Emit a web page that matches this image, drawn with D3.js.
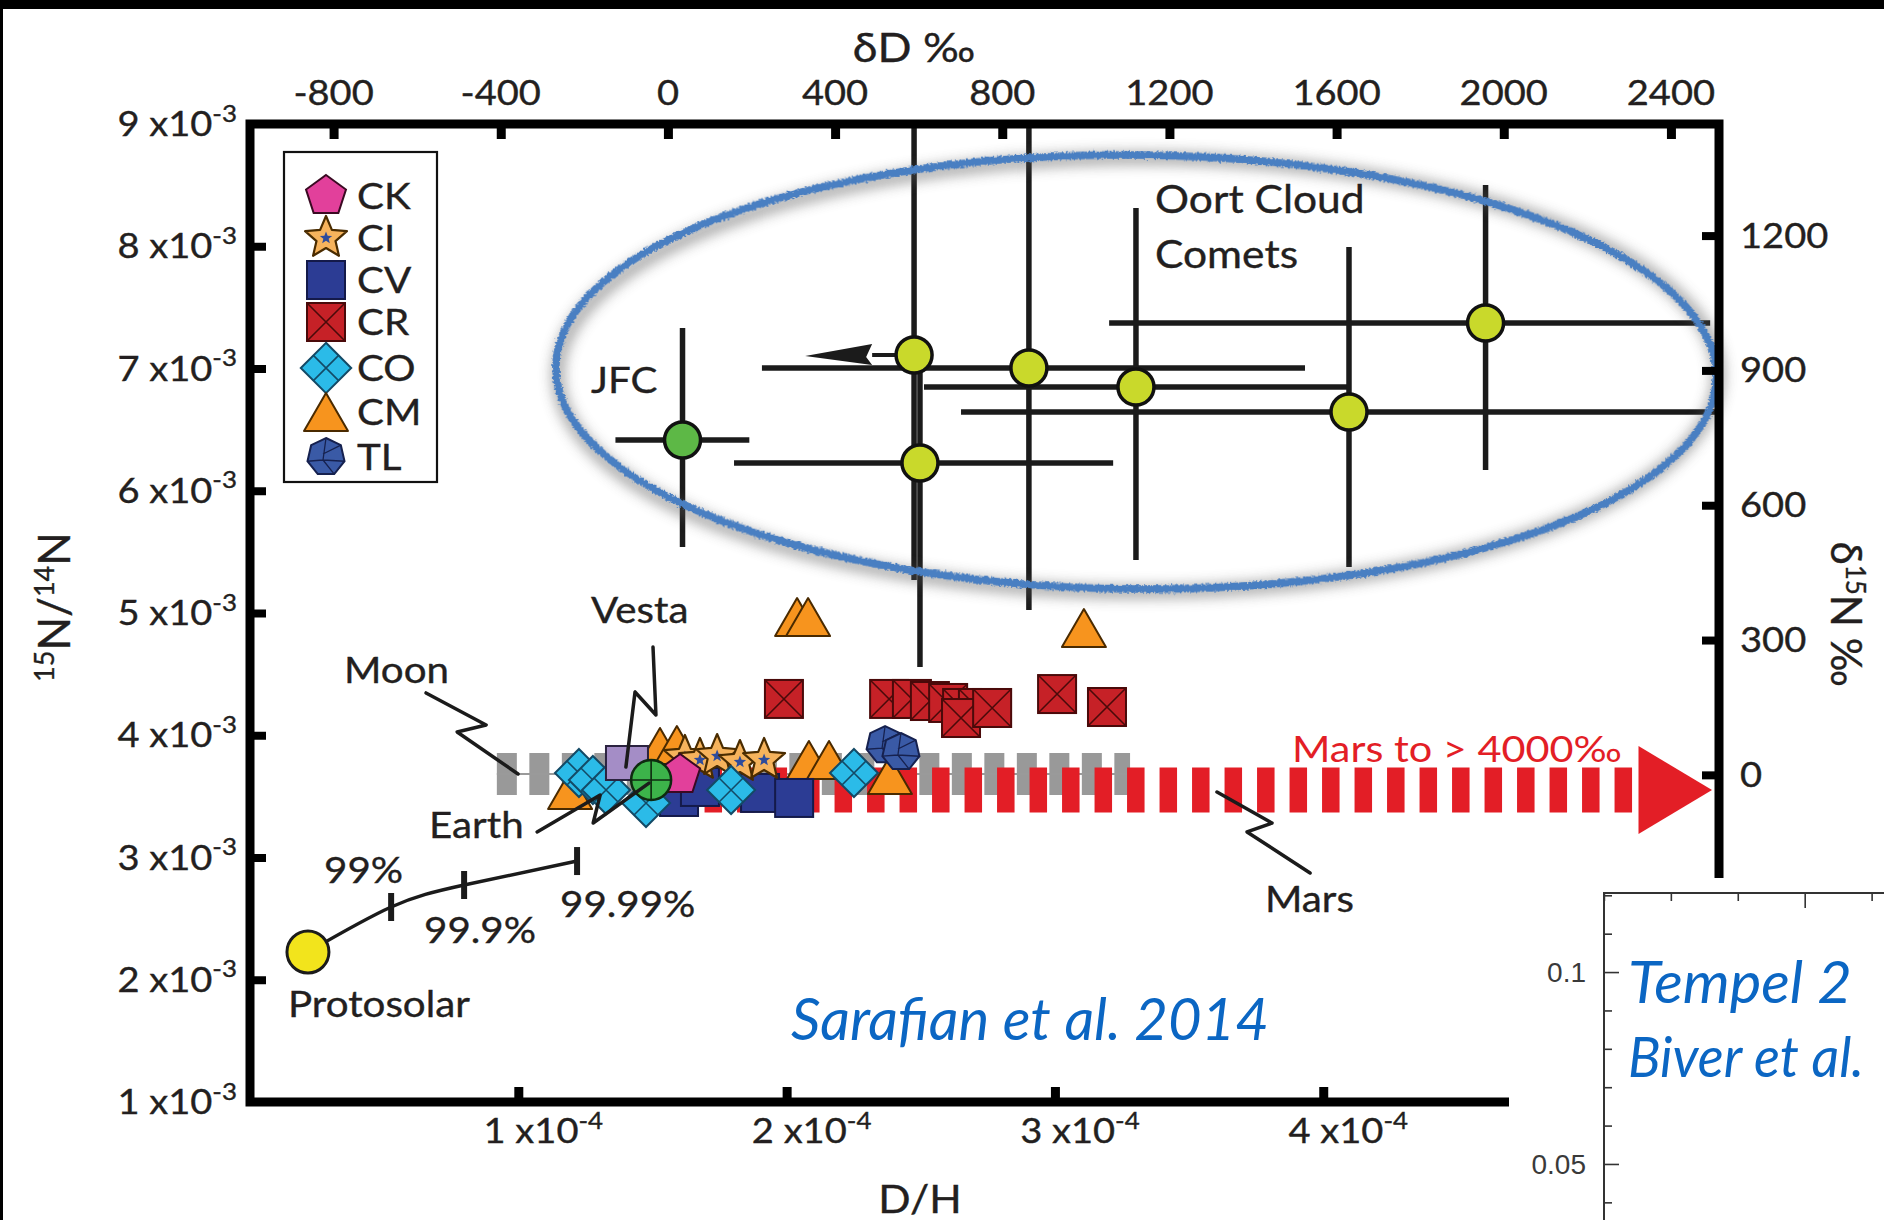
<!DOCTYPE html>
<html>
<head>
<meta charset="utf-8">
<script src="https://cdn.jsdelivr.net/npm/d3@7"></script>
<style>
  html, body { margin: 0; padding: 0; background: #000; }
  svg { display: block; }
  text { font-family: Lato, "Open Sans", sans-serif; fill: #231f20; }
  text.ink { stroke: #231f20; stroke-width: 0.35px; }
</style>
</head>
<body>
<svg id="chart" width="1884" height="1220"></svg>
<script>
// ---------- axis ticks ----------
const ratioTicks = [2e-3, 3e-3, 4e-3, 5e-3, 6e-3, 7e-3, 8e-3];
const ratioLabels = [1e-3, 2e-3, 3e-3, 4e-3, 5e-3, 6e-3, 7e-3, 8e-3, 9e-3];
const dhTicks = [1e-4, 2e-4, 3e-4, 4e-4];
const deltaDTicks = [-800, -400, 0, 400, 800, 1200, 1600, 2000, 2400];
const delta15NTicks = [0, 300, 600, 900, 1200];

// reference standards used for the delta axes
const VSMOW = 1.5576e-4;   // D/H
const AIR = 3.676e-3;      // 15N/14N

// ---------- meteorite groups: [D/H, 15N/14N] ----------
const groupCM = [[2.039e-4, 4.967e-3], [2.080e-4, 4.967e-3], [3.108e-4, 4.877e-3],
                 [1.193e-4, 3.552e-3], [1.528e-4, 3.904e-3], [1.591e-4, 3.920e-3],
                 [2.083e-4, 3.798e-3], [2.158e-4, 3.798e-3], [2.385e-4, 3.675e-3]];
const groupCR = [[1.990e-4, 4.297e-3], [2.382e-4, 4.297e-3], [2.467e-4, 4.297e-3],
                 [2.534e-4, 4.280e-3], [2.602e-4, 4.264e-3], [2.654e-4, 4.223e-3],
                 [2.713e-4, 4.223e-3], [2.650e-4, 4.141e-3], [2.766e-4, 4.223e-3],
                 [3.008e-4, 4.337e-3], [3.194e-4, 4.231e-3]];
const groupCV = [[1.599e-4, 3.495e-3], [1.677e-4, 3.577e-3], [1.901e-4, 3.528e-3],
                 [2.028e-4, 3.487e-3]];
const groupCI = [[1.621e-4, 3.822e-3], [1.677e-4, 3.798e-3], [1.741e-4, 3.830e-3],
                 [1.826e-4, 3.781e-3], [1.916e-4, 3.798e-3]];
const groupCO = [[1.226e-4, 3.691e-3], [1.278e-4, 3.634e-3], [1.327e-4, 3.552e-3],
                 [1.476e-4, 3.446e-3], [1.793e-4, 3.552e-3], [2.251e-4, 3.691e-3]];
const groupTL = [[2.367e-4, 3.920e-3], [2.426e-4, 3.863e-3]];
const groupCK = [[1.603e-4, 3.675e-3]];

// ---------- planetary bodies ----------
const earth = [1.495e-4, 3.634e-3];
const vesta = [1.405e-4, 3.773e-3];
const protosolar = [0.216e-4, 2.227e-3];
// mixing curve from protosolar toward Earth (99 %, 99.9 %, 99.99 %)
const mixingCurve = [[0.216e-4, 2.227e-3], [0.526e-4, 2.595e-3], [0.798e-4, 2.775e-3], [1.219e-4, 2.971e-3]];
const mixingLabels = ["99%", "99.9%", "99.99%"];

// Moon and Mars ranges (D/H span at a given 15N/14N)
const moonRange = { dh: [0.92e-4, 3.28e-4], ratio: 3.683e-3 };
const marsRange = { dh: [1.573e-4, 5.16e-4], tip: 5.449e-4, ratio: 3.552e-3 };

// ---------- comets: value with low/high limits ----------
const jfcComets = [
  { dh: 1.612e-4, dhLo: 1.362e-4, dhHi: 1.861e-4, r: 6.415e-3, rLo: 5.540e-3, rHi: 7.331e-3 }
];
const oortComets = [
  { dh: 2.475e-4, dhLo: 2.069e-4, dhHi: null,     r: 7.110e-3, rLo: 5.270e-3, rHi: 9.0e-3, upperLimit: true },
  { dh: 2.903e-4, dhLo: 1.908e-4, dhHi: 3.932e-4, r: 7.004e-3, rLo: 5.025e-3, rHi: 9.0e-3 },
  { dh: 3.302e-4, dhLo: 2.512e-4, dhHi: 4.100e-4, r: 6.849e-3, rLo: 5.434e-3, rHi: 8.313e-3 },
  { dh: 2.497e-4, dhLo: 1.804e-4, dhHi: 3.217e-4, r: 6.227e-3, rLo: 4.558e-3, rHi: 7.029e-3 },
  { dh: 4.096e-4, dhLo: 2.650e-4, dhHi: 5.464e-4, r: 6.644e-3, rLo: 5.376e-3, rHi: 7.994e-3 },
  { dh: 4.605e-4, dhLo: 3.202e-4, dhHi: 5.442e-4, r: 7.372e-3, rLo: 6.170e-3, rHi: 8.501e-3 }
];
// region outlined around the comet measurements
const cometRegion = { dh: [1.14e-4, 5.465e-4], ratio: [5.196e-3, 8.747e-3] };

// squiggly leader lines for the labels
const leaderMoon  = [[0.656e-4, 4.346e-3], [0.880e-4, 4.084e-3], [0.772e-4, 4.027e-3], [0.999e-4, 3.683e-3]];
const leaderVesta = [[1.502e-4, 4.722e-3], [1.513e-4, 4.166e-3], [1.435e-4, 4.354e-3], [1.401e-4, 3.740e-3]];
const leaderEarth = [[1.070e-4, 3.209e-3], [1.305e-4, 3.511e-3], [1.279e-4, 3.282e-3], [1.487e-4, 3.609e-3]];
const leaderMars  = [[3.604e-4, 3.536e-3], [3.809e-4, 3.282e-3], [3.716e-4, 3.209e-3], [3.951e-4, 2.873e-3]];

const legendKeys = ["CK", "CI", "CV", "CR", "CO", "CM", "TL"];

// inset (Tempel 2 panel) ticks
const insetYMajor = [0.05, 0.1];
const insetYMinor = [0.04, 0.06, 0.07, 0.08, 0.09, 0.11, 0.12];
const insetXMajor = [0];
const insetXMinor = [-1.5, -1, -0.5, 0.5];

// ---------- setup ----------
const W = 1884, H = 1220;
const SX = 1.12;   // horizontal stretch applied to figure lettering
const INK = "#1b1b1b";
const svg = d3.select("#chart");

const defs = svg.append("defs");
const rough = defs.append("filter").attr("id", "rough").attr("x", "-5%").attr("y", "-5%").attr("width", "110%").attr("height", "110%");
rough.append("feTurbulence").attr("type", "fractalNoise").attr("baseFrequency", 0.45).attr("numOctaves", 2).attr("seed", 3).attr("result", "noise");
rough.append("feDisplacementMap").attr("in", "SourceGraphic").attr("in2", "noise").attr("scale", 5).attr("xChannelSelector", "R").attr("yChannelSelector", "G");
const soft = defs.append("filter").attr("id", "soft").attr("x", "-10%").attr("y", "-20%").attr("width", "120%").attr("height", "140%");
soft.append("feGaussianBlur").attr("stdDeviation", 7);

// page background
svg.append("rect").attr("width", W).attr("height", H).attr("fill", "#000");
svg.append("rect").attr("x", 3).attr("y", 9).attr("width", W - 3).attr("height", H - 9).attr("fill", "#fff");

const x = d3.scaleLinear().domain([0, 5.475e-4]).range([250, 1719]);
const y = d3.scaleLinear().domain([1e-3, 9e-3]).range([1102, 124]);
const xDelta = d3.scaleLinear().domain(x.domain().map(v => (v / VSMOW - 1) * 1000)).range(x.range());
const yDelta = d3.scaleLinear().domain(y.domain().map(v => (v / AIR - 1) * 1000)).range(y.range());

const px = d => x(d[0]), py = d => y(d[1]);

// text helper with a slight horizontal stretch
function label(parent, tx, ty, opts = {}) {
  const size = opts.size || 34;
  const t = parent.append("text")
    .attr("transform", `translate(${tx},${ty}) scale(${opts.sx || SX},1)`)
    .attr("text-anchor", opts.anchor || "start")
    .attr("font-size", size);
  if (opts.fill) t.style("fill", opts.fill);
  else t.attr("class", "ink");
  if (opts.italic) t.attr("font-style", "italic");
  if (opts.text != null) t.text(opts.text);
  return t;
}
function sci(t, mant, exp, size) {
  t.append("tspan").text(mant + " x10");
  t.append("tspan").attr("font-size", size * 0.68).attr("dy", -size * 0.42).text(exp);
}

// ---------- marker shapes ----------
const lineClosed = d3.line().curve(d3.curveLinearClosed);
function regular(n, r, rot = -Math.PI / 2) {
  return d3.range(n).map(i => [r * Math.cos(rot + i * 2 * Math.PI / n), r * Math.sin(rot + i * 2 * Math.PI / n)]);
}
function starPts(ro, ri) {
  return d3.range(10).map(i => {
    const a = -Math.PI / 2 + i * Math.PI / 5, r = i % 2 ? ri : ro;
    return [r * Math.cos(a), r * Math.sin(a)];
  });
}

const shapes = {
  CK(g, s) {
    g.append("path").attr("d", lineClosed(regular(5, 21 * s))).attr("fill", "#e2409b").attr("stroke", "#3a0a22").attr("stroke-width", 2);
  },
  CI(g, s) {
    g.append("path").attr("d", lineClosed(starPts(22 * s, 10 * s))).attr("fill", "#f6b35c").attr("stroke", "#4a2c00").attr("stroke-width", 2.2).attr("stroke-linejoin", "round");
    g.append("path").attr("d", lineClosed(starPts(6.5 * s, 2.8 * s))).attr("fill", "#2d4b9c");
  },
  CV(g, s) {
    const h = 19 * s;
    g.append("rect").attr("x", -h).attr("y", -h).attr("width", 2 * h).attr("height", 2 * h).attr("fill", "#2c3c94").attr("stroke", "#141a4a").attr("stroke-width", 2);
  },
  CR(g, s) {
    const h = 19 * s;
    g.append("rect").attr("x", -h).attr("y", -h).attr("width", 2 * h).attr("height", 2 * h).attr("fill", "#c62127").attr("stroke", "#4a0a0a").attr("stroke-width", 2);
    g.append("path").attr("d", `M${-h},${-h}L${h},${h}M${h},${-h}L${-h},${h}`).attr("stroke", "#4a0a0a").attr("stroke-width", 1.6);
  },
  CO(g, s) {
    const r = 24 * s, m = r / 2;
    g.append("path").attr("d", lineClosed([[0, -r], [r, 0], [0, r], [-r, 0]])).attr("fill", "#2bbbe8").attr("stroke", "#134a66").attr("stroke-width", 2);
    g.append("path").attr("d", `M${m},${-m}L${-m},${m}M${-m},${-m}L${m},${m}`).attr("stroke", "#134a66").attr("stroke-width", 1.6);
  },
  CM(g, s) {
    const w = 22 * s, h = 19 * s;
    g.append("path").attr("d", lineClosed([[0, -h], [w, h], [-w, h]])).attr("fill", "#f7941e").attr("stroke", "#4a2a00").attr("stroke-width", 2).attr("stroke-linejoin", "round");
  },
  TL(g, s) {
    const pts = regular(7, 19 * s);
    g.append("path").attr("d", lineClosed(pts)).attr("fill", "#3a5aa6").attr("stroke", "#16214f").attr("stroke-width", 2);
    const c = [-3 * s, 3 * s];
    g.append("path").attr("d", [0, 2, 3, 5].map(i => `M${c[0]},${c[1]}L${pts[i][0]},${pts[i][1]}`).join("") + `M${pts[1][0]},${pts[1][1]}L${c[0]},${c[1] - 6 * s}`)
      .attr("stroke", "#16214f").attr("stroke-width", 1.3).attr("fill", "none");
  }
};

// ---------- Moon and Mars bands ----------
const bands = svg.append("g");
bands.append("line")
  .attr("x1", x(moonRange.dh[0])).attr("x2", x(moonRange.dh[1]))
  .attr("y1", y(moonRange.ratio)).attr("y2", y(moonRange.ratio))
  .attr("stroke", "#999").attr("stroke-width", 42).attr("stroke-dasharray", "20 12.5");
bands.append("line")
  .attr("x1", x(moonRange.dh[0])).attr("x2", x(moonRange.dh[1]))
  .attr("y1", y(moonRange.ratio)).attr("y2", y(moonRange.ratio))
  .attr("stroke", "#9a9a9a").attr("stroke-width", 2);
bands.append("line")
  .attr("x1", x(marsRange.dh[0])).attr("x2", x(marsRange.dh[1]))
  .attr("y1", y(marsRange.ratio)).attr("y2", y(marsRange.ratio))
  .attr("stroke", "#e31e26").attr("stroke-width", 45).attr("stroke-dasharray", "17.5 15");
const my = y(marsRange.ratio);
bands.append("path")
  .attr("d", lineClosed([[x(marsRange.dh[1]) + 4, my - 44], [x(marsRange.tip), my], [x(marsRange.dh[1]) + 4, my + 44]]))
  .attr("fill", "#e31e26");

// ---------- meteorites ----------
const markers = svg.append("g");
const drawOrder = [["CM", groupCM], ["CR", groupCR], ["CV", groupCV], ["CI", groupCI], ["CO", groupCO], ["TL", groupTL], ["CK", groupCK]];
drawOrder.forEach(([key, data]) => {
  markers.selectAll(null).data(data).join("g")
    .attr("transform", d => `translate(${px(d)},${py(d)})`)
    .each(function () { shapes[key](d3.select(this), 1); });
});

// Vesta and Earth
markers.append("rect")
  .attr("x", px(vesta) - 21).attr("y", py(vesta) - 17).attr("width", 42).attr("height", 34)
  .attr("fill", "#a48dc6").attr("stroke", "#2b2340").attr("stroke-width", 2);
const eg = markers.append("g").attr("transform", `translate(${px(earth)},${py(earth)})`);
eg.append("circle").attr("r", 20).attr("fill", "#3cb34a").attr("stroke", "#0e2a10").attr("stroke-width", 2.5);
eg.append("path").attr("d", "M-20,0H20M0,-20V20").attr("stroke", "#0e2a10").attr("stroke-width", 1.6);

// ---------- mixing curve & protosolar ----------
const curve = svg.append("g");
curve.append("path").datum(mixingCurve)
  .attr("d", d3.line().x(px).y(py).curve(d3.curveNatural))
  .attr("fill", "none").attr("stroke", INK).attr("stroke-width", 3.5);
curve.selectAll(null).data(mixingCurve.slice(1)).join("line")
  .attr("x1", px).attr("x2", px)
  .attr("y1", d => py(d) - 14).attr("y2", d => py(d) + 14)
  .attr("stroke", INK).attr("stroke-width", 6);
curve.append("circle").attr("cx", px(protosolar)).attr("cy", py(protosolar)).attr("r", 21)
  .attr("fill", "#f2e41c").attr("stroke", INK).attr("stroke-width", 3);

// ---------- comets ----------
const cometG = svg.append("g");
function drawComets(data, fill) {
  data.forEach(c => {
    const cx = x(c.dh), cy = y(c.r);
    cometG.append("line").attr("x1", cx).attr("x2", cx).attr("y1", y(c.rLo)).attr("y2", y(c.rHi))
      .attr("stroke", INK).attr("stroke-width", 5.5);
    if (c.upperLimit) {
      const tip = x(c.dhLo), base = tip + 67;
      cometG.append("line").attr("x1", cx).attr("x2", base).attr("y1", cy).attr("y2", cy)
        .attr("stroke", INK).attr("stroke-width", 4);
      cometG.append("path").attr("d", lineClosed([[tip, cy + 1], [base, cy - 11], [base - 6, cy + 2], [base, cy + 10]]))
        .attr("fill", INK);
    } else {
      cometG.append("line").attr("x1", x(c.dhLo)).attr("x2", x(c.dhHi)).attr("y1", cy).attr("y2", cy)
        .attr("stroke", INK).attr("stroke-width", 5.5);
    }
  });
  cometG.selectAll(null).data(data).join("circle")
    .attr("cx", d => x(d.dh)).attr("cy", d => y(d.r)).attr("r", 18)
    .attr("fill", fill).attr("stroke", "#111").attr("stroke-width", 3.5);
}
drawComets(oortComets, "#c9d92b");
drawComets(jfcComets, "#5db846");

// ---------- outline around the comets ----------
const ex = (x(cometRegion.dh[0]) + x(cometRegion.dh[1])) / 2;
const ey = (y(cometRegion.ratio[0]) + y(cometRegion.ratio[1])) / 2;
const erx = (x(cometRegion.dh[1]) - x(cometRegion.dh[0])) / 2;
const ery = (y(cometRegion.ratio[0]) - y(cometRegion.ratio[1])) / 2;
svg.append("ellipse").attr("cx", ex + 2).attr("cy", ey + 3).attr("rx", erx).attr("ry", ery)
  .attr("fill", "none").attr("stroke", "#555").attr("stroke-width", 11).attr("opacity", 0.6).attr("filter", "url(#soft)");
svg.append("ellipse").attr("cx", ex).attr("cy", ey).attr("rx", erx).attr("ry", ery)
  .attr("transform", `rotate(0.5,${ex},${ey})`)
  .attr("fill", "none").attr("stroke", "#4a7fc2").attr("stroke-width", 7.5).attr("filter", "url(#rough)");

// ---------- leader lines ----------
const leader = d3.line().x(px).y(py);
[leaderMoon, leaderVesta, leaderEarth, leaderMars].forEach(l => {
  svg.append("path").datum(l).attr("d", leader).attr("fill", "none")
    .attr("stroke", INK).attr("stroke-width", 3.5).attr("stroke-linejoin", "round").attr("stroke-linecap", "round");
});

// ---------- frame and axes ----------
const axes = svg.append("g");
axes.append("path")
  .attr("d", `M${x.range()[0]},${y.range()[1]}H${x.range()[1]}V${y.range()[0]}H${x.range()[0]}Z`)
  .attr("fill", "none").attr("stroke", "#000").attr("stroke-width", 9).attr("stroke-linejoin", "miter");

function styleAxis(g, w) {
  g.select(".domain").remove();
  g.selectAll(".tick text").remove();
  g.selectAll(".tick line").attr("stroke", "#000").attr("stroke-width", w);
}
axes.append("g").attr("transform", `translate(${x.range()[0]},0)`)
  .call(d3.axisLeft(y).tickValues(ratioTicks).tickSize(-16)).call(g => styleAxis(g, 8));
axes.append("g").attr("transform", `translate(0,${y.range()[1]})`)
  .call(d3.axisTop(xDelta).tickValues(deltaDTicks).tickSize(-15)).call(g => styleAxis(g, 9));
axes.append("g").attr("transform", `translate(0,${y.range()[0]})`)
  .call(d3.axisBottom(x).tickValues(dhTicks).tickSize(-15)).call(g => styleAxis(g, 9));
axes.append("g").attr("transform", `translate(${x.range()[1]},0)`)
  .call(d3.axisRight(yDelta).tickValues(delta15NTicks).tickSize(-17)).call(g => styleAxis(g, 8));

// tick labels
const TS = 34;
ratioLabels.forEach(v => {
  const t = label(axes, 237, y(v) + 12, { anchor: "end", size: TS });
  sci(t, Math.round(v / 1e-3), "-3", TS);
});
dhTicks.forEach(v => {
  const t = label(axes, x(v) + 25, 1143, { anchor: "middle", size: TS });
  sci(t, Math.round(v / 1e-4), "-4", TS);
});
deltaDTicks.forEach(v => label(axes, xDelta(v), 105, { anchor: "middle", size: TS, text: v }));
delta15NTicks.forEach(v => label(axes, 1740, yDelta(v) + 12, { size: TS, text: v }));

// axis titles
label(axes, 914, 62, { anchor: "middle", size: 40, text: "δD ‰" });
label(axes, 920, 1213, { anchor: "middle", size: 38, text: "D/H" });
{
  const t = axes.append("text").attr("class", "ink").attr("transform", "translate(70,607) rotate(-90)")
    .attr("text-anchor", "middle").attr("font-size", 44);
  t.append("tspan").attr("font-size", 27).attr("dy", -16).text("15");
  t.append("tspan").attr("dy", 16).text("N/");
  t.append("tspan").attr("font-size", 27).attr("dy", -16).text("14");
  t.append("tspan").attr("dy", 16).text("N");
}
{
  const t = axes.append("text").attr("class", "ink").attr("transform", "translate(1831,614) rotate(90)")
    .attr("text-anchor", "middle").attr("font-size", 42);
  t.append("tspan").text("δ");
  t.append("tspan").attr("font-size", 26).attr("dy", -15).text("15");
  t.append("tspan").attr("dy", 15).text("N ‰");
}

// ---------- annotations ----------
const notes = svg.append("g");
const NS = 36;
label(notes, 344, 683, { size: NS, text: "Moon" });
label(notes, 591, 623, { size: NS, text: "Vesta" });
label(notes, 429, 838, { size: NS, text: "Earth" });
label(notes, 288, 1017, { size: NS, text: "Protosolar" });
label(notes, 324, 883, { size: NS, text: mixingLabels[0] });
label(notes, 424, 943, { size: NS, text: mixingLabels[1] });
label(notes, 560, 917, { size: NS, text: mixingLabels[2] });
label(notes, 1265, 912, { size: NS, text: "Mars" });
label(notes, 1292, 762, { size: 37, text: "Mars to > 4000‰", fill: "#e31e26" });
label(notes, 591, 393, { size: NS, text: "JFC" });
label(notes, 1155, 213, { size: 38, text: "Oort Cloud" });
label(notes, 1155, 268, { size: 38, text: "Comets" });

// ---------- legend ----------
const legend = svg.append("g");
legend.append("rect").attr("x", 284).attr("y", 152).attr("width", 153).attr("height", 330)
  .attr("fill", "#fff").attr("stroke", "#111").attr("stroke-width", 2.2);
const legendRows = [196, 238, 280, 322, 368, 412, 457];
legendKeys.forEach((k, i) => {
  const g = legend.append("g").attr("transform", `translate(326,${legendRows[i]})`);
  shapes[k](g, k === "CO" ? 1.05 : 1.0);
  label(legend, 357, legendRows[i] + 13, { size: 36, text: k });
});

// ---------- inset panel ----------
const inset = svg.append("g");
inset.append("rect").attr("x", 1509).attr("y", 878).attr("width", W - 1509).attr("height", H - 878).attr("fill", "#fff");
const ix = d3.scaleLinear().domain([-2, 0.6]).range([1537, 1885]);
const iy = d3.scaleLinear().domain([0.0354, 0.1206]).range([1220, 893]);
function thin(g) { g.select(".domain").remove(); g.selectAll(".tick text").remove(); g.selectAll(".tick line").attr("stroke", "#333").attr("stroke-width", 1.6); }
inset.append("g").attr("transform", "translate(1604,0)").call(d3.axisLeft(iy).tickValues(insetYMinor).tickSize(-8)).call(thin);
inset.append("g").attr("transform", "translate(1604,0)").call(d3.axisLeft(iy).tickValues(insetYMajor).tickSize(-15)).call(thin);
inset.append("g").attr("transform", "translate(0,893)").call(d3.axisTop(ix).tickValues(insetXMinor).tickSize(-8)).call(thin);
inset.append("g").attr("transform", "translate(0,893)").call(d3.axisTop(ix).tickValues(insetXMajor).tickSize(-15)).call(thin);
inset.append("path").attr("d", `M1604,${H}V893H${W}`).attr("fill", "none").attr("stroke", "#333").attr("stroke-width", 2);
insetYMajor.forEach(v => {
  inset.append("text").attr("x", 1586).attr("y", iy(v) + 10).attr("text-anchor", "end")
    .attr("font-size", 28).style("font-family", "'Liberation Sans', Arial, sans-serif").style("fill", "#3a3a3a")
    .text(v);
});

// citations
const BLUE = "#0b66c3";
label(svg, 1628, 1003, { size: 58, sx: 1.03, italic: true, fill: BLUE, text: "Tempel 2" });
label(svg, 1628, 1077, { size: 57, sx: 0.95, italic: true, fill: BLUE, text: "Biver et al." });
label(svg, 791, 1040, { size: 58, sx: 1.0, italic: true, fill: BLUE, text: "Sarafian et al. 2014" });
</script>
</body>
</html>
